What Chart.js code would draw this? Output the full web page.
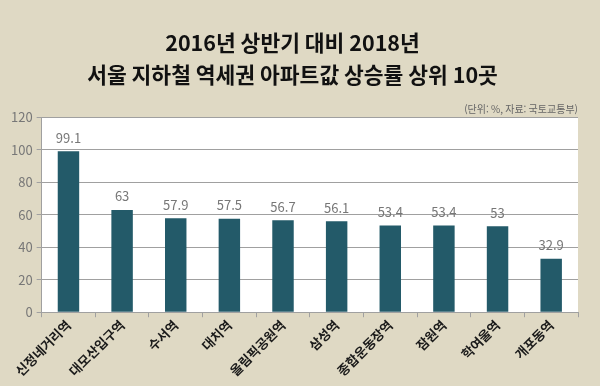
<!DOCTYPE html>
<html lang="ko">
<head>
<meta charset="utf-8">
<script src="https://cdn.jsdelivr.net/npm/chart.js@4"></script>
<style>
  html, body { margin: 0; padding: 0; background: #dfd9c4; }
  #wrap { width: 600px; height: 386px; position: relative; }
</style>
</head>
<body>
<div id="wrap"><canvas id="chart"></canvas></div>
<script>
const stations = ['신정네거리역', '대모산입구역', '수서역', '대치역', '올림픽공원역', '삼성역', '종합운동장역', '잠원역', '학여울역', '개포동역'];
const riseRates = [99.1, 63, 57.9, 57.5, 56.7, 56.1, 53.4, 53.4, 53, 32.9];
const yTicks = [0, 20, 40, 60, 80, 100, 120];

const FONT = '"Noto Sans CJK KR", "Noto Sans", sans-serif';

// white plot background
const plotBg = {
    id: 'plotBg',
    beforeDraw(chart) {
        const { ctx, chartArea: a } = chart;
        ctx.save();
        ctx.fillStyle = '#ffffff';
        ctx.fillRect(a.left, a.top, a.right - a.left, a.bottom - a.top);
        ctx.restore();
    }
};

// value labels above bars
const valueLabels = {
    id: 'valueLabels',
    afterDatasetsDraw(chart) {
        const { ctx } = chart;
        const meta = chart.getDatasetMeta(0);
        ctx.save();
        ctx.font = '13px ' + FONT;
        ctx.fillStyle = '#777777';
        ctx.textAlign = 'center';
        ctx.textBaseline = 'bottom';
        meta.data.forEach((bar, i) => {
            ctx.fillText(String(riseRates[i]), bar.x, bar.y - 7);
        });
        ctx.restore();
    }
};

new Chart(document.getElementById('chart'), {
    type: 'bar',
    data: {
        labels: stations,
        datasets: [{
            data: riseRates,
            backgroundColor: '#235a69',
            borderWidth: 0,
            barPercentage: 0.4,
            categoryPercentage: 1
        }]
    },
    options: {
        responsive: true,
        maintainAspectRatio: false,
        animation: false,
        layout: { padding: { left: 7, right: 22, bottom: 7 } },
        plugins: {
            legend: { display: false },
            tooltip: { enabled: false },
            title: {
                display: true,
                text: ['2016년 상반기 대비 2018년', '서울 지하철 역세권 아파트값 상승률 상위 10곳'],
                color: '#111111',
                font: { family: FONT, size: 21.5, weight: 'bold', lineHeight: 1.52 },
                padding: { top: 26, bottom: 12 }
            },
            subtitle: {
                display: true,
                text: '(단위: %, 자료: 국토교통부)',
                align: 'end',
                color: '#666666',
                font: { family: FONT, size: 10 },
                padding: { top: 0, bottom: 2 }
            }
        },
        scales: {
            y: {
                min: 0,
                max: 120,
                afterBuildTicks: axis => { axis.ticks = yTicks.map(v => ({ value: v })); },
                ticks: { color: '#777777', font: { family: FONT, size: 13 }, padding: 4 },
                grid: { color: '#a0a0a0', tickLength: 5, lineWidth: 1 },
                border: { color: '#a0a0a0' }
            },
            x: {
                ticks: {
                    color: '#1a1a1a',
                    font: { family: FONT, size: 13, weight: 'bold' },
                    minRotation: 45,
                    maxRotation: 45,
                    autoSkip: false,
                    padding: 0
                },
                grid: { display: true, drawOnChartArea: false, offset: true, tickLength: 5, color: '#a0a0a0' },
                border: { color: '#a0a0a0' }
            }
        }
    },
    plugins: [plotBg, valueLabels]
});
</script>
</body>
</html>
